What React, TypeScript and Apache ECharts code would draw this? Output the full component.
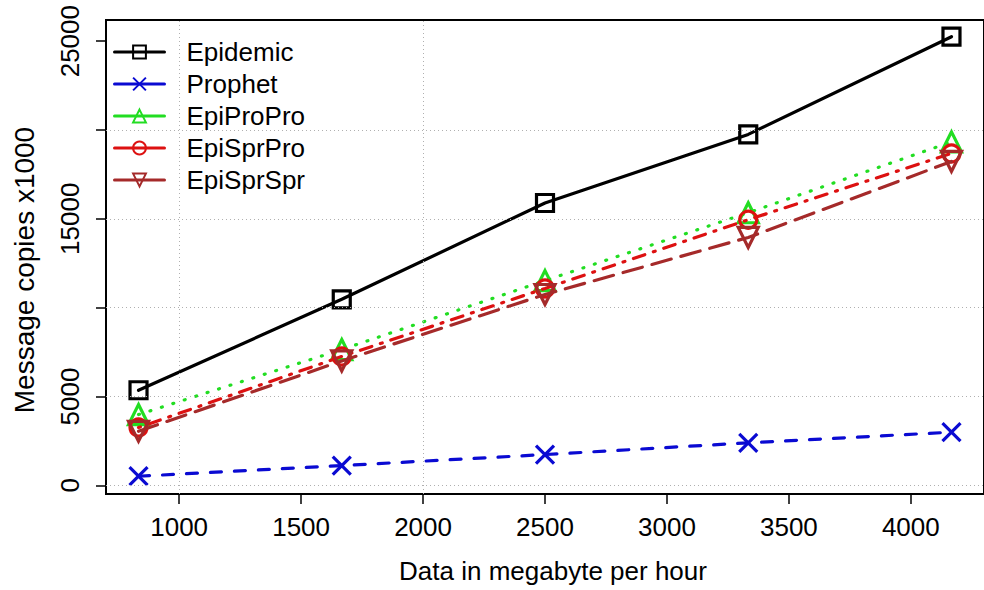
import React, { useEffect, useRef } from "react";
import * as echarts from "echarts";

const xValues = [833.33, 1666.67, 2500, 3333.33, 4166.67];
const epidemic = [5350, 10470, 15890, 19750, 25250];
const prophet = [510, 1110, 1730, 2390, 2990];
const epiProPro = [3980, 7640, 11520, 15340, 19330];
const epiSprPro = [3250, 7250, 11080, 14950, 18680];
const epiSprSpr = [3040, 7000, 10740, 13950, 18230];

const xTickValues = [1000, 1500, 2000, 2500, 3000, 3500, 4000];
const yTickValues = [0, 5000, 10000, 15000, 20000, 25000];
const yLabelValues = [0, 5000, 15000, 25000];
const hGridValues = [0, 5000, 10000, 15000, 20000];
const vGridValues = [1000, 2000];

const FONT = "'Liberation Sans', Arial, Helvetica, sans-serif";

const seriesDefs = [
  { name: "Epidemic", data: epidemic, color: "#000000", symbol: "rect", size: 17, rotate: 0, dash: "solid" as any },
  { name: "Prophet", data: prophet, color: "#0a0ad2", symbol: "path://M0,0L10,10M0,10L10,0", size: 18, rotate: 0, dash: [11, 13] },
  { name: "EpiProPro", data: epiProPro, color: "#22dd22", symbol: "triangle", size: 20, rotate: 0, dash: [1, 11] },
  { name: "EpiSprPro", data: epiSprPro, color: "#dd1111", symbol: "circle", size: 17, rotate: 0, dash: [2, 9, 12, 9] },
  { name: "EpiSprSpr", data: epiSprSpr, color: "#a52a2a", symbol: "triangle", size: 20, rotate: 180, dash: [20, 10] },
];

export default function App() {
  const ref = useRef<HTMLDivElement>(null);
  useEffect(() => {
    if (!ref.current) return;
    const chart = echarts.init(ref.current, null, { renderer: "svg" });
    const series: any[] = [
      {
        name: "grid",
        type: "line",
        data: [],
        silent: true,
        z: 1,
        markLine: {
          silent: true,
          symbol: ["none", "none"],
          label: { show: false },
          lineStyle: { color: "#b0b0b0", type: [1, 3], width: 1 },
          data: [
            ...hGridValues.map((v) => ({ yAxis: v })),
            ...vGridValues.map((v) => ({ xAxis: v })),
          ],
        },
      },
      ...seriesDefs.map((s, i) => ({
        name: s.name,
        type: "line",
        z: 2 + i,
        data: s.data.map((v, j) => [xValues[j], v]),
        symbol: s.symbol,
        symbolSize: s.size,
        symbolRotate: s.rotate,
        showAllSymbol: true,
        itemStyle: { color: "rgba(0,0,0,0)", borderColor: s.color, borderWidth: 3.2 },
        lineStyle: { color: s.color, width: 3.2, type: s.dash, cap: "round" },
        emphasis: { disabled: true },
      })),
    ];
    chart.setOption({
      animation: false,
      grid: {
        left: 106,
        top: 20,
        width: 886,
        height: 474,
        show: true,
        borderColor: "#000",
        borderWidth: 2,
        backgroundColor: "transparent",
      },
      legend: {
        data: seriesDefs.map((s) => s.name),
        orient: "vertical",
        left: 113,
        top: 39,
        padding: 0,
        itemWidth: 50,
        itemHeight: 16,
        itemGap: 6,
        lineStyle: { type: "solid", width: 3 },
        textStyle: { fontSize: 26, fontFamily: FONT, color: "#000", lineHeight: 26, padding: [0, 0, 0, 17] },
        selectedMode: false,
      },
      xAxis: {
        type: "value",
        min: 700,
        max: 4300,
        axisLine: { show: true, onZero: false, lineStyle: { color: "#000", width: 2 } },
        axisTick: { show: true, length: 10, customValues: xTickValues, lineStyle: { color: "#000", width: 1.5 } },
        axisLabel: {
          customValues: xTickValues,
          fontSize: 26,
          fontFamily: FONT,
          color: "#000",
          margin: 20,
          formatter: (v: number) => String(v),
        },
        splitLine: { show: false },
      },
      yAxis: {
        type: "value",
        min: -490,
        max: 26190,
        axisLine: { show: true, onZero: false, lineStyle: { color: "#000", width: 2 } },
        axisTick: { show: true, length: 10, customValues: yTickValues, lineStyle: { color: "#000", width: 1.5 } },
        axisLabel: {
          customValues: yLabelValues,
          rotate: 90,
          fontSize: 26,
          fontFamily: FONT,
          color: "#000",
          margin: 23,
          formatter: (v: number) => String(v),
        },
        splitLine: { show: false },
      },
      graphic: [
        {
          type: "text",
          x: 553,
          y: 571,
          style: {
            text: "Data in megabyte per hour",
            fontSize: 26,
            fontFamily: FONT,
            fill: "#000",
            align: "center",
            verticalAlign: "middle",
          },
        },
        {
          type: "text",
          x: 24,
          y: 270,
          rotation: Math.PI / 2,
          style: {
            text: "Message copies x1000",
            fontSize: 28,
            fontFamily: FONT,
            fill: "#000",
            align: "center",
            verticalAlign: "middle",
          },
        },
      ],
      series,
    });
    return () => chart.dispose();
  }, []);
  return <div ref={ref} style={{ position: "absolute", left: 0, top: 0, width: 984, height: 590 }} />;
}
